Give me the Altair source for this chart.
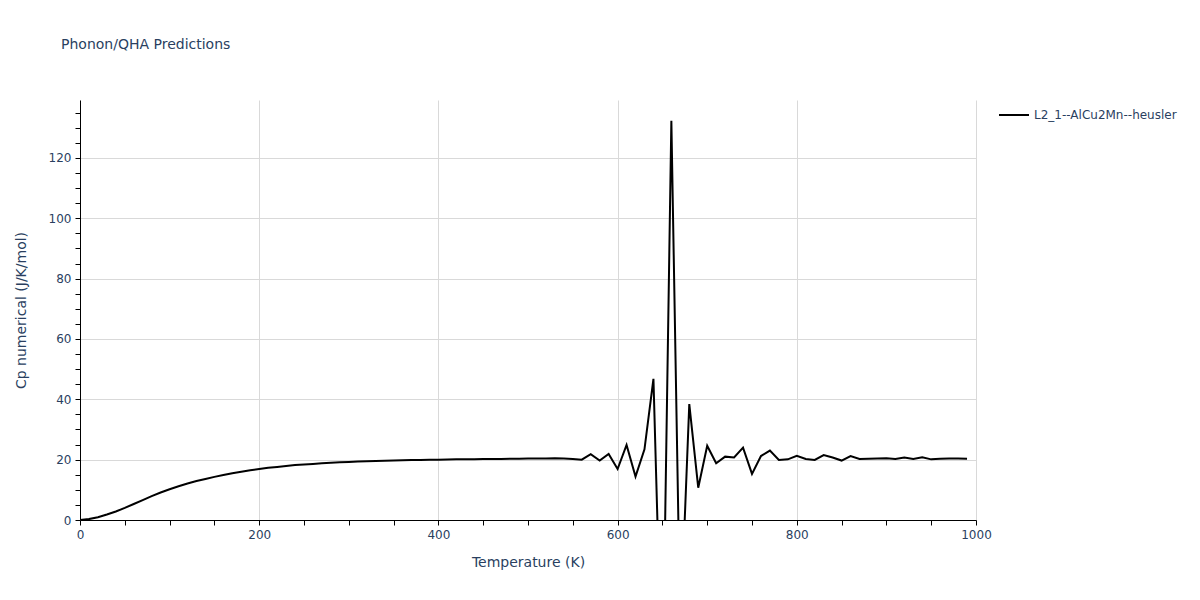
import altair as alt
import pandas as pd

temperature = list(range(0, 1000, 10))
cp_values = [
    0.0, 0.3, 0.9, 1.8, 2.8, 4.0, 5.3, 6.6, 7.9, 9.1,
    10.2, 11.2, 12.1, 12.9, 13.6, 14.3, 14.9, 15.5, 16.0, 16.5,
    16.9, 17.3, 17.6, 17.9, 18.2, 18.4, 18.6, 18.8, 19.0, 19.1,
    19.2, 19.35, 19.45, 19.55, 19.65, 19.7, 19.8, 19.85, 19.9, 19.95,
    20.0, 20.05, 20.1, 20.1, 20.15, 20.2, 20.2, 20.25, 20.3, 20.3,
    20.35, 20.4, 20.4, 20.45, 20.4, 20.2, 20.0, 21.8, 19.7, 21.9,
    16.9, 24.9, 14.4, 23.4, 46.8, -59.0, 132.3, -37.0, 38.4, 10.7,
    24.6, 18.8, 21.0, 20.7, 24.0, 15.3, 21.2, 23.0, 19.9, 20.1,
    21.3, 20.2, 19.9, 21.5, 20.7, 19.7, 21.2, 20.2, 20.3, 20.4,
    20.5, 20.2, 20.7, 20.2, 20.8, 20.1, 20.3, 20.4, 20.4, 20.3,
]
series_name = "L2_1--AlCu2Mn--heusler"

df = pd.DataFrame({
    "Temperature": temperature,
    "Cp": cp_values,
    "series": [series_name] * len(temperature),
})

FONT = "DejaVu Sans"
TXT = "#2a3f5f"
GRID = "#d9d9d9"

x_ticks = list(range(0, 1001, 50))
y_ticks = list(range(0, 140, 5))

chart = alt.Chart(df).mark_line(color="black", strokeWidth=2, clip=True).encode(
    x=alt.X(
        "Temperature:Q",
        scale=alt.Scale(domain=[0, 1000], nice=False, zero=False),
        axis=alt.Axis(
            title="Temperature (K)",
            values=x_ticks,
            labelExpr="datum.value % 200 === 0 ? datum.value : ''",
            gridColor={"condition": {"test": "datum.value % 200 === 0", "value": GRID}, "value": "transparent"},
            domainColor="black",
            tickColor="black",
            tickSize=5,
            labelPadding=4,
            labelFlush=False,
            labelOverlap=False,
            titlePadding=15,
        ),
    ),
    y=alt.Y(
        "Cp:Q",
        scale=alt.Scale(domain=[0, 139.2], nice=False, zero=False),
        axis=alt.Axis(
            title="Cp numerical (J/K/mol)",
            values=y_ticks,
            labelExpr="datum.value % 20 === 0 ? datum.value : ''",
            gridColor={"condition": {"test": "datum.value % 20 === 0", "value": GRID}, "value": "transparent"},
            domainColor="black",
            tickColor="black",
            tickSize=5,
            labelPadding=4,
            labelOverlap=False,
            titlePadding=20,
        ),
    ),
    color=alt.Color(
        "series:N",
        scale=alt.Scale(range=["black"]),
        legend=alt.Legend(
            title=None,
            orient="none",
            legendX=918,
            legendY=-1,
            symbolType="stroke",
            symbolStrokeWidth=2,
            symbolSize=900,
            labelFontSize=12,
            labelFont=FONT,
            labelColor=TXT,
        ),
    ),
).properties(
    width=896,
    height=420,
    title=alt.TitleParams(
        "Phonon/QHA Predictions",
        anchor="start",
        frame="group",
        dx=-19,
        offset=47,
        fontSize=14,
        font=FONT,
        color=TXT,
        fontWeight="normal",
    ),
    autosize=alt.AutoSizeParams(type="none"),
    padding={"left": 72, "top": 92, "right": 216, "bottom": 64},
).configure_axis(
    labelFont=FONT,
    labelFontSize=12,
    labelColor=TXT,
    titleFont=FONT,
    titleFontSize=14,
    titleColor=TXT,
    titleFontWeight="normal",
    gridWidth=1,
).configure_view(stroke=None)

chart.save("out.html", embed_options={"renderer": "svg", "actions": False})
